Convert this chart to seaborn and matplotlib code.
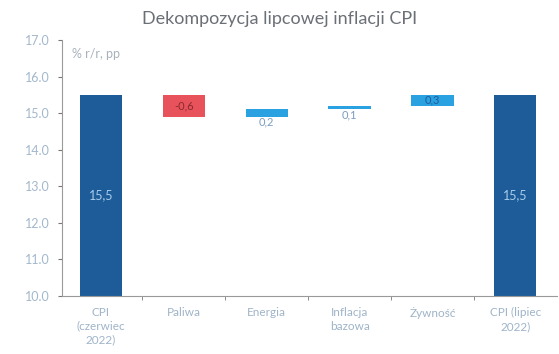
import matplotlib
matplotlib.use("Agg")
import matplotlib.pyplot as plt
import seaborn as sns
import pandas as pd
from matplotlib.ticker import FixedLocator, FormatStrFormatter

# Waterfall components (percentage points)
categories = ["CPI\n(czerwiec\n2022)", "Paliwa", "Energia", "Inflacja\nbazowa",
              "Żywność", "CPI (lipiec\n2022)"]
values = [15.5, -0.6, 0.2, 0.1, 0.3, 15.5]
value_labels = ["15,5", "-0,6", "0,2", "0,1", "0,3", "15,5"]
kinds = ["total", "change", "change", "change", "change", "total"]

# floating bars start where the running total ended
bottoms = []
running = 0.0
for v, k in zip(values, kinds):
    if k == "total":
        bottoms.append(0.0)
        running = v
    else:
        bottoms.append(running)
        running += v

col_total = "#1d5c98"
col_up = "#2aa2e2"
col_down = "#e8525b"
colors = [col_total if k == "total" else (col_up if v >= 0 else col_down)
          for v, k in zip(values, kinds)]

df = pd.DataFrame({"kat": categories, "val": values})

sns.set_style("white")
plt.rcParams["font.family"] = ["Lato", "DejaVu Sans"]

fig = plt.figure(figsize=(5.59, 3.54), dpi=100)
ax = fig.add_axes([0.111, 0.164, 0.885, 0.723])

sns.barplot(data=df, x="kat", y="val", color=col_total, bottom=bottoms,
            width=0.51, saturation=1, ax=ax)
for patch, c in zip(ax.patches, colors):
    patch.set_facecolor(c)
    patch.set_edgecolor("none")

ax.set_ylim(10, 17)
ax.set_xlim(-0.47, 5.5)
ax.yaxis.set_major_locator(FixedLocator([10, 11, 12, 13, 14, 15, 16, 17]))
ax.yaxis.set_major_formatter(FormatStrFormatter("%.1f"))

tick_col = "#a3b8cc"
ax.tick_params(axis="y", length=3, width=0.8, color="#777777", labelsize=9,
               labelcolor=tick_col, pad=6, left=True)
ax.tick_params(axis="x", length=0, labelsize=8.5, labelcolor="#9fb4c8", pad=8)
ax.set_xticks(range(len(categories)))
ax.set_xticklabels(categories, linespacing=1.3)
ax.set_xticks([i + 0.5 for i in range(len(categories) - 1)], minor=True)
ax.tick_params(axis="x", which="minor", length=3, color="#777777", bottom=True)

for s in ["top", "right"]:
    ax.spines[s].set_visible(False)
ax.spines["left"].set_color("#9a9a9a")
ax.spines["bottom"].set_color("#9a9a9a")
ax.spines["left"].set_linewidth(0.8)
ax.spines["bottom"].set_linewidth(0.8)
ax.set_xlabel("")
ax.set_ylabel("")

# value labels
for i, (v, b, lab, k) in enumerate(zip(values, bottoms, value_labels, kinds)):
    if k == "total":
        ax.text(i, (10 + v) / 2, lab, ha="center", va="center",
                fontsize=9, color="#a9cdea")
    elif v < 0:
        ax.text(i, b + v / 2, lab, ha="center", va="center",
                fontsize=8, color="#8a2a30")
    elif v >= 0.3:
        ax.text(i, b + v / 2, lab, ha="center", va="center",
                fontsize=8, color="#1d5c98")
    else:
        ax.text(i, b, lab, ha="center", va="top",
                fontsize=8, color="#7a9cc0")

ax.text(0.02, 0.97, "% r/r, pp", transform=ax.transAxes, ha="left", va="top",
        fontsize=9, color="#a8b2bc")

fig.suptitle("Dekompozycja lipcowej inflacji CPI", x=0.5, y=0.97,
             fontsize=13, color="#6b7076")

fig.savefig("out.png", dpi=100)
